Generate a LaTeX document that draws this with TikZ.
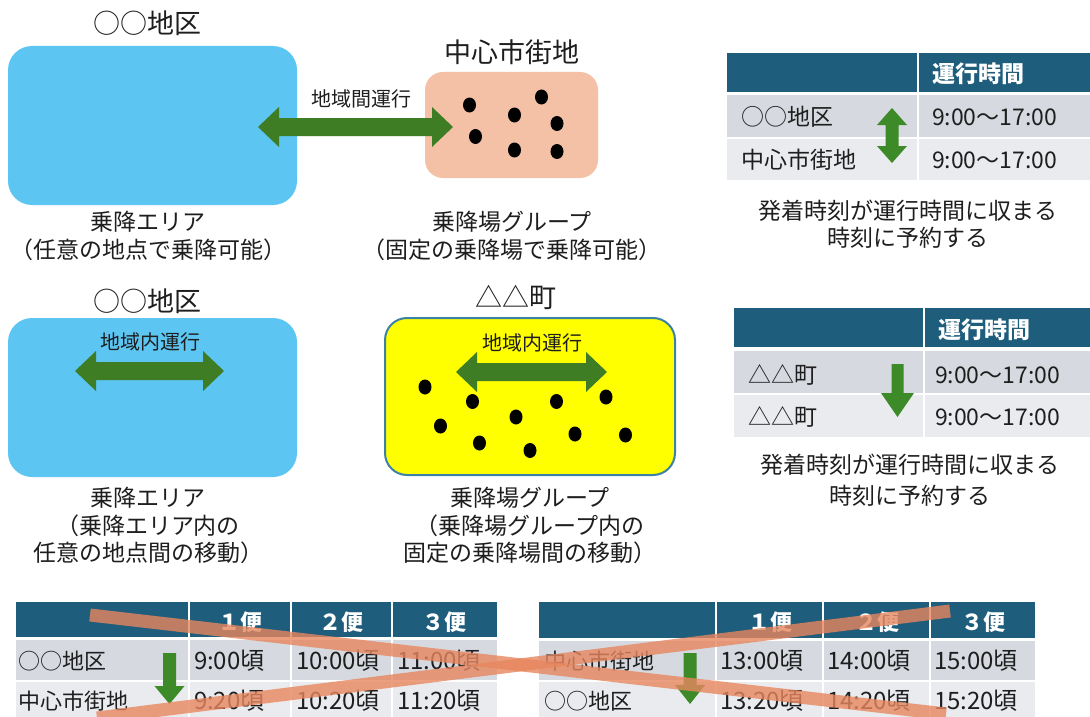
\documentclass[tikz,border=0pt]{standalone}
\usepackage{fontspec}
\setmainfont{Noto Sans CJK JP}
\usetikzlibrary{shapes.geometric}
\definecolor{areablue}{RGB}{92,197,242}
\definecolor{peach}{RGB}{245,193,166}
\definecolor{yellowbox}{RGB}{255,255,0}
\definecolor{boxedge}{RGB}{60,130,165}
\definecolor{arrowgreen}{RGB}{62,125,36}
\definecolor{tblgreen}{RGB}{60,138,40}
\definecolor{hdrblue}{RGB}{31,93,124}
\definecolor{rowone}{RGB}{214,218,224}
\definecolor{rowtwo}{RGB}{233,235,239}
\definecolor{coral}{RGB}{232,135,95}
\definecolor{txt}{RGB}{30,30,30}
\newcommand{\DoubleH}[4][arrowgreen]{\fill[#1] (#2,#4) -- ++(21,-20) -- ++(0,11) -- ({#3-21},{#4-9}) -- ++(0,-11) -- (#3,#4) -- ++(-21,20) -- ++(0,-11) -- ({#2+21},{#4+9}) -- ++(0,11) -- cycle;}
\newcommand{\DoubleV}[3]{\fill[tblgreen] (#1,#2) -- ++(15,17) -- ++(-8.5,0) -- ({#1+6.5},{#3-17}) -- ++(8.5,0) -- (#1,#3) -- ++(-15,-17) -- ++(8.5,0) -- ({#1-6.5},{#2+17}) -- ++(-8.5,0) -- cycle;}
\newcommand{\DownA}[6]{\fill[tblgreen] ({#1-#4},#2) -- ({#1+#4},#2) -- ({#1+#4},{#3-#6}) -- ({#1+#5},{#3-#6}) -- (#1,#3) -- ({#1-#5},{#3-#6}) -- ({#1-#4},{#3-#6}) -- cycle;}
\begin{document}
\begin{tikzpicture}[x=1pt,y=-1pt,
  every node/.style={inner sep=0pt,outer sep=0pt,text=txt},
  ttl/.style={font=\fontsize{27}{31}\selectfont},
  capt/.style={font=\fontsize{23}{28}\selectfont},
  lbl/.style={font=\fontsize{20}{24}\selectfont},
  tt/.style={font=\fontsize{23}{27}\selectfont,anchor=west},
  bt/.style={font=\fontsize{22}{26}\selectfont,anchor=west},
  btime/.style={font=\fontsize{24}{28}\selectfont,anchor=west},
  th/.style={font=\bfseries\fontsize{23}{27}\selectfont,text=white,anchor=west},
  bh/.style={font=\bfseries\fontsize{22}{26}\selectfont,text=white},
  dotn/.style={fill=black,ellipse,minimum width=13pt,minimum height=15pt},
  xline/.style={draw=coral,line width=13pt,draw opacity=0.8}]
\useasboundingbox (0,0) rectangle (1090,717);
\fill[white] (0,0) rectangle (1090,717);

% ---------- top: inter-area ----------
\node[ttl] (tA) at (147,23) {○○地区};
\fill[areablue,rounded corners=24pt] (8,46) rectangle (297,205);
\node (areaA) at (152.5,125.5) {};
\node[ttl] (tB) at (512,52) {中心市街地};
\fill[peach,rounded corners=18pt] (425,72) rectangle (598,178);
\node (areaB) at (511.5,125) {};
\foreach \p [count=\i] in {(469.5,105),(541.5,97),(514.5,115),(557,123.5),(475.5,136.5),(514.5,150),(557,151.5)}
  \node[dotn] (dB\i) at \p {};
\DoubleH{258}{453}{127}
\node[lbl] (lAB) at (361,99) {地域間運行};
\node[capt] (cA1) at (148,222) {乗降エリア};
\node[capt] (cA2) at (148,250) {（任意の地点で乗降可能）};
\node[capt] (cB1) at (512,222) {乗降場グループ};
\node[capt] (cB2) at (512,250) {（固定の乗降場で乗降可能）};

% ---------- top right table ----------
\fill[hdrblue] (727,53) rectangle (1090,92);
\fill[rowone] (727,95) rectangle (1090,137);
\fill[rowtwo] (727,139) rectangle (1090,180);
\draw[white,line width=2pt] (917.5,53) -- (917.5,180);
\node[th] (h1) at (932,74) {運行時間};
\node[tt] (r1a) at (741,117) {○○地区};
\node[tt] (r1b) at (741,160) {中心市街地};
\node[tt] (r1c) at (932,117) {9:00～17:00};
\node[tt] (r1d) at (932,160) {9:00～17:00};
\DoubleV{892}{108}{163}
\node[capt] (n1a) at (908,211) {発着時刻が運行時間に収まる};
\node[capt] (n1b) at (908,238) {時刻に予約する};

% ---------- middle: intra-area ----------
\node[ttl] (tC) at (147,301) {○○地区};
\fill[areablue,rounded corners=24pt] (8,318) rectangle (297,477);
\node (areaC) at (152.5,397.5) {};
\node[lbl] (lC) at (150,342) {地域内運行};
\DoubleH{75}{224}{371}
\node[capt] (cC1) at (148,498) {乗降エリア};
\node[capt] (cC2) at (148,526) {（乗降エリア内の};
\node[capt] (cC3) at (148,553) {任意の地点間の移動）};

\node[ttl] (tD) at (516,297) {△△町};
\draw[boxedge,fill=yellowbox,line width=2pt,rounded corners=22pt] (385,318) rectangle (675,475);
\node (areaD) at (530,396.5) {};
\foreach \p [count=\i] in {(425,387),(472.5,401.5),(440.5,426),(516,417),(479.5,443),(530,450.5),(556.5,401.5),(606,397),(575,434),(625.5,435)}
  \node[dotn] (dD\i) at \p {};
\node[lbl] (lD) at (532,343) {地域内運行};
\DoubleH{456}{607}{372}
\node[capt] (cD1) at (530,498) {乗降場グループ};
\node[capt] (cD2) at (530,526) {（乗降場グループ内の};
\node[capt] (cD3) at (530,553) {固定の乗降場間の移動）};

% ---------- middle right table ----------
\fill[hdrblue] (734,308) rectangle (1090,347);
\fill[rowone] (734,351) rectangle (1090,393);
\fill[rowtwo] (734,395) rectangle (1090,437);
\draw[white,line width=2pt] (924,308) -- (924,437);
\node[th] (h2) at (938,330) {運行時間};
\node[tt] (r2a) at (748,375) {△△町};
\node[tt] (r2b) at (748,417) {△△町};
\node[tt] (r2c) at (935,375) {9:00～17:00};
\node[tt] (r2d) at (935,417) {9:00～17:00};
\DownA{897.5}{364}{417}{6}{16.5}{24}
\node[capt] (n2a) at (910,465) {発着時刻が運行時間に収まる};
\node[capt] (n2b) at (910,496) {時刻に予約する};

% ---------- bottom left table ----------
\fill[hdrblue] (16,602) rectangle (497,637);
\fill[rowone] (16,640) rectangle (497,680);
\fill[rowtwo] (16,682) rectangle (497,717);
\foreach \x in {189,291,392} \draw[white,line width=2pt] (\x,602) -- (\x,717);
\node[bh] (b1h1) at (240,622) {１便};
\node[bh] (b1h2) at (341,622) {２便};
\node[bh] (b1h3) at (444,622) {３便};
\node[bt] (b1a) at (19,661) {○○地区};
\node[bt] (b1b) at (19,701) {中心市街地};
\node[btime] (b1c) at (194,661) {9:00頃};
\node[btime] (b1d) at (296,661) {10:00頃};
\node[btime] (b1e) at (397,661) {11:00頃};
\node[btime] (b1f) at (194,701) {9:20頃};
\node[btime] (b1g) at (296,701) {10:20頃};
\node[btime] (b1i) at (397,701) {11:20頃};
\DownA{169.5}{653}{704}{6.5}{15}{18}

% ---------- bottom right table ----------
\fill[hdrblue] (539,602) rectangle (1035,638);
\fill[rowone] (539,641) rectangle (1035,680);
\fill[rowtwo] (539,682) rectangle (1035,717);
\foreach \x in {716,823,930} \draw[white,line width=2pt] (\x,602) -- (\x,717);
\node[bh] (b2h1) at (770,622) {１便};
\node[bh] (b2h2) at (877,622) {２便};
\node[bh] (b2h3) at (983,622) {３便};
\node[bt] (b2a) at (544,661) {中心市街地};
\node[bt] (b2b) at (544,701) {○○地区};
\node[btime] (b2c) at (720,661) {13:00頃};
\node[btime] (b2d) at (827,661) {14:00頃};
\node[btime] (b2e) at (934,661) {15:00頃};
\node[btime] (b2f) at (720,701) {13:20頃};
\node[btime] (b2g) at (827,701) {14:20頃};
\node[btime] (b2i) at (934,701) {15:20頃};
\DownA{690}{653}{704}{6.5}{15}{19}

% ---------- crossing-out lines ----------
\coordinate (xa1) at (90,615);
\coordinate (xa2) at (946,714);
\coordinate (xb1) at (97,718);
\coordinate (xb2) at (950,611);
\draw[xline] (xa1) -- (xa2);
\draw[xline] (xb1) -- (xb2);
\end{tikzpicture}
\end{document}
